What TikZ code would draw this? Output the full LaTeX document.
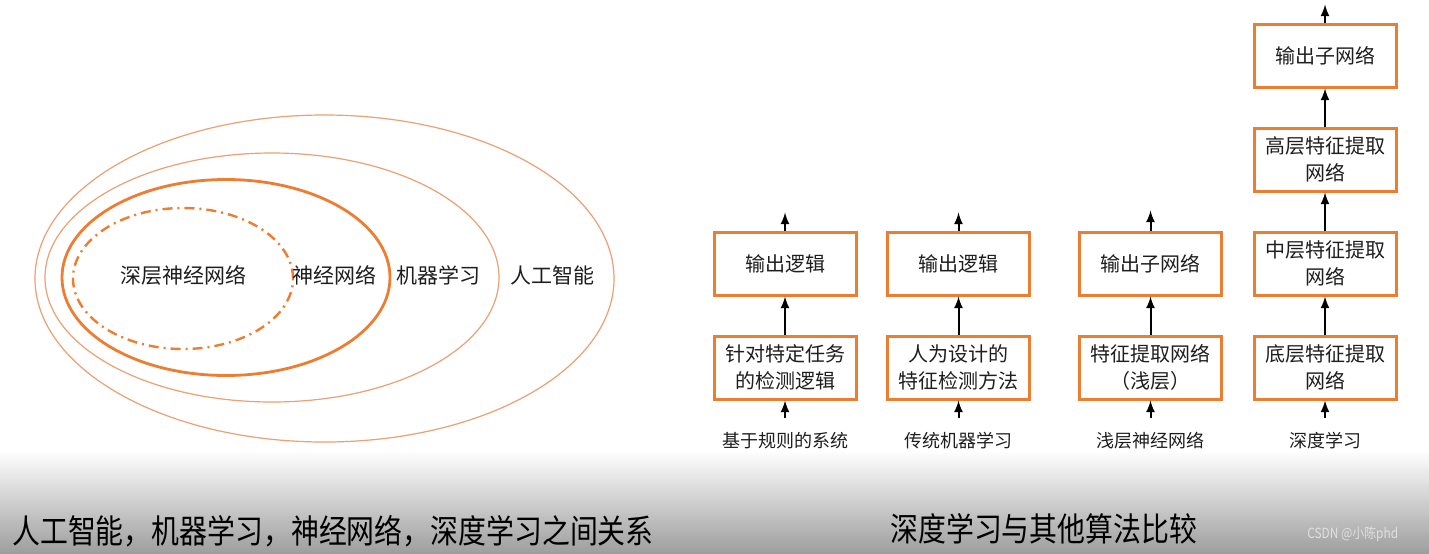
\documentclass[tikz,border=0pt]{standalone}
\usepackage{fontspec}
\setmainfont{Noto Sans CJK SC}
\usepackage{xcolor}
\usetikzlibrary{positioning}

\definecolor{orng}{RGB}{237,125,49}
\definecolor{orngl}{RGB}{236,160,115}
\definecolor{ink}{RGB}{30,30,30}

\tikzset{
  box/.style={draw=orng, line width=1.5pt, minimum width=71pt, minimum height=31.5pt,
    align=center, inner sep=1pt, text=ink, font=\fontsize{10}{13.5}\selectfont},
  arr/.style={->, >=latex, line width=1pt},
  lbl/.style={text=ink, inner sep=0pt, font=\fontsize{9}{10}\selectfont},
  venn/.style={text=ink, inner sep=0pt, font=\fontsize{10.5}{12}\selectfont},
  ttl/.style={anchor=west, inner sep=0pt, xscale=0.845, text=black, font=\fontsize{16.5}{18}\selectfont},
}

\begin{document}
\begin{tikzpicture}[x=0.5pt, y=-0.5pt]
  \useasboundingbox (0,0) rectangle (1429,553);
  \fill[white] (0,0) rectangle (1429,553);
  \shade[top color=white, bottom color=black!38] (0,450) rectangle (1429,553);

  % nested sets
  \draw[orngl, line width=0.6pt] (324.5,278.5) ellipse [x radius=144.75pt, y radius=81.75pt];
  \draw[orngl, line width=0.6pt] (272,277.5) ellipse [x radius=113.5pt, y radius=62.25pt];
  \draw[orng, line width=1.4pt] (226,277.5) ellipse [x radius=82pt, y radius=49pt];
  \draw[orng, line width=1.2pt, dash pattern=on 5pt off 2.5pt on 1pt off 2.5pt] (183,278.5) ellipse [x radius=55pt, y radius=35.25pt];
  \node[venn] (dnn) at (183,275) {深层神经网络};
  \node[venn] (nn) at (334,275) {神经网络};
  \node[venn] (ml) at (438,275) {机器学习};
  \node[venn] (ai) at (552,275) {人工智能};

  % rule based
  \node[box] (r1) at (785,367.5) {针对特定任务\\的检测逻辑};
  \node[box, above=19pt of r1] (r2) {输出逻辑};
  \coordinate[below=8.5pt of r1] (r0);
  \coordinate[above=9pt of r2] (r3);
  \draw[arr] (r0) -- (r1);
  \draw[arr] (r1) -- (r2);
  \draw[arr] (r2) -- (r3);
  \node[lbl] (rl) at (785,441) {基于规则的系统};

  % classic ml
  \node[box] (m1) at (958.5,367.5) {人为设计的\\特征检测方法};
  \node[box, above=19pt of m1] (m2) {输出逻辑};
  \coordinate[below=8.5pt of m1] (m0);
  \coordinate[above=9pt of m2] (m3);
  \draw[arr] (m0) -- (m1);
  \draw[arr] (m1) -- (m2);
  \draw[arr] (m2) -- (m3);
  \node[lbl] (mlbl) at (958.5,441) {传统机器学习};

  % shallow nn
  \node[box] (s1) at (1150.5,367.5) {特征提取网络\\（浅层）};
  \node[box, above=19pt of s1] (s2) {输出子网络};
  \coordinate[below=8.5pt of s1] (s0);
  \coordinate[above=10pt of s2] (s3);
  \draw[arr] (s0) -- (s1);
  \draw[arr] (s1) -- (s2);
  \draw[arr] (s2) -- (s3);
  \node[lbl] (sl) at (1150.5,441) {浅层神经网络};

  % deep learning
  \node[box] (d1) at (1325,367.5) {底层特征提取\\网络};
  \node[box, above=19pt of d1] (d2) {中层特征提取\\网络};
  \node[box, above=19pt of d2] (d3) {高层特征提取\\网络};
  \node[box, above=19pt of d3] (d4) {输出子网络};
  \coordinate[below=8.5pt of d1] (d0);
  \coordinate[above=9pt of d4] (d5);
  \draw[arr] (d0) -- (d1);
  \draw[arr] (d1) -- (d2);
  \draw[arr] (d2) -- (d3);
  \draw[arr] (d3) -- (d4);
  \draw[arr] (d4) -- (d5);
  \node[lbl] (dl) at (1325,441) {深度学习};

  % captions
  \node[ttl] (t1) at (12,531) {人工智能，机器学习，神经网络，深度学习之间关系};
  \node[ttl] (t2) at (890,529) {深度学习与其他算法比较};
  \node[anchor=west, inner sep=0pt, xscale=0.85, text=white!88!black, font=\fontsize{7}{8}\selectfont] (wm) at (1307,534) {CSDN @小陈phd};
\end{tikzpicture}
\end{document}
